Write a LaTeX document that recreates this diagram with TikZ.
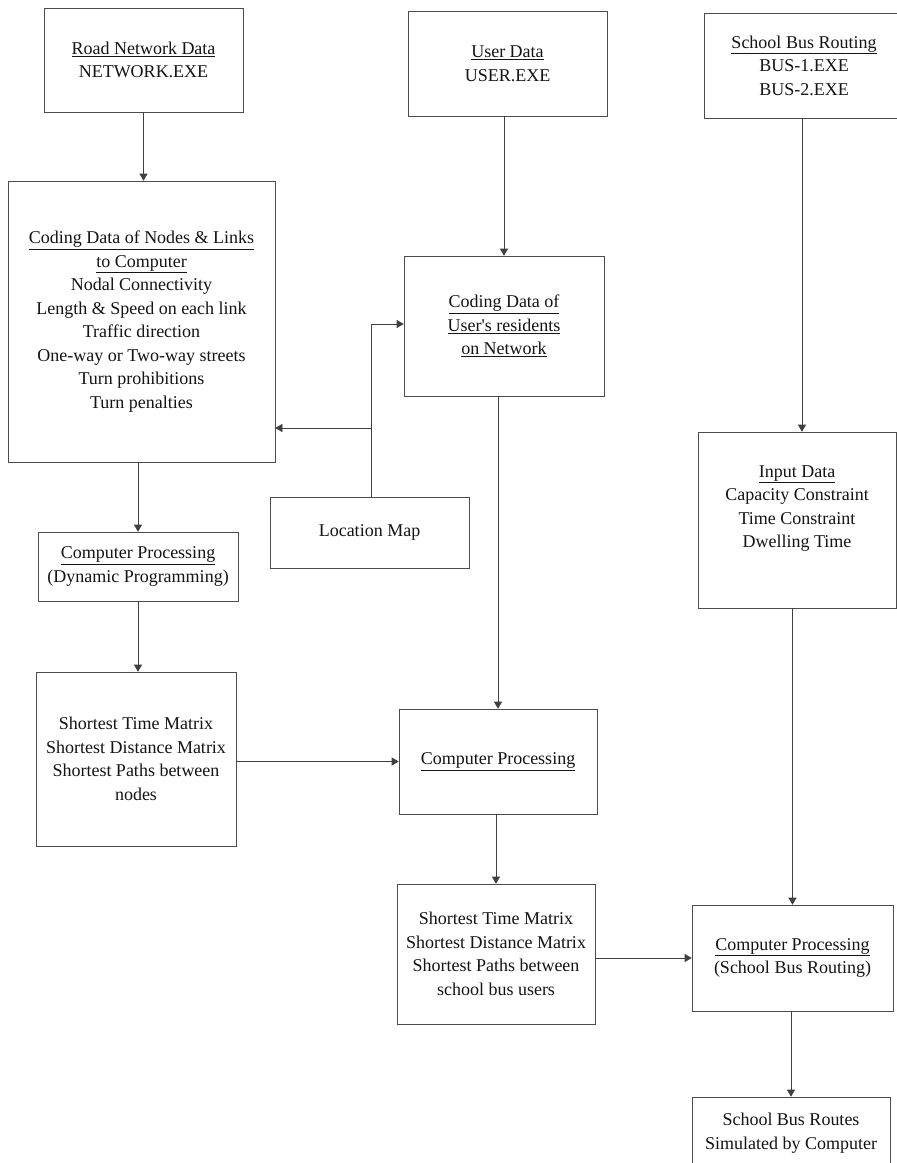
\documentclass[tikz,border=0pt]{standalone}
\usepackage{fontspec}
\setmainfont{Liberation Serif}
\usetikzlibrary{arrows.meta}
\begin{document}
\begin{tikzpicture}[x=1pt,y=-1pt,
  every node/.style={font=\fontsize{18}{23.5}\selectfont, text=black!92},
  box/.style={draw=black!70, line width=0.6pt, rectangle, inner sep=0pt, align=center},
  lbl/.style={inner sep=0pt, align=center},
  arr/.style={draw=black!75, line width=0.6pt, -{Triangle[length=7pt,width=8pt]}}]
\useasboundingbox (0,0) rectangle (897,1163);
\fill[white] (0,0) rectangle (897,1163);
\clip (0,0) rectangle (897,1163);

% left column
\node[box, minimum width=199, minimum height=104] (road) at (143.5,60)
  {\underline{Road Network Data}\\NETWORK.EXE};
\node[box, minimum width=267, minimum height=281] (coding) at (141.5,321.5)
  {\underline{Coding Data of Nodes \& Links}\\\underline{to Computer}\\Nodal Connectivity\\Length \& Speed on each link\\Traffic direction\\One-way or Two-way streets\\Turn prohibitions\\Turn penalties};
\node[box, minimum width=200, minimum height=69] (dp) at (138,566.5)
  {\underline{Computer Processing}\\(Dynamic Programming)};
\node[box, minimum width=200, minimum height=174] (sp1) at (136,759)
  {Shortest Time Matrix\\Shortest Distance Matrix\\Shortest Paths between\\nodes};

% middle column
\node[box, minimum width=199, minimum height=105] (user) at (507.5,63.5)
  {\underline{User Data}\\USER.EXE};
\node[box, minimum width=200, minimum height=140] (ucode) at (504,326)
  {\underline{Coding Data of}\\\underline{User\textquotesingle s residents}\\\underline{on Network}};
\node[box, minimum width=199, minimum height=71] (locmap) at (369.5,532.5)
  {Location Map};
\node[box, minimum width=198, minimum height=105] (cpmid) at (498,761.5)
  {\underline{Computer Processing}};
\node[box, minimum width=198, minimum height=140] (sp2) at (496,954)
  {Shortest Time Matrix\\Shortest Distance Matrix\\Shortest Paths between\\school bus users};

% right column
\node[box, minimum width=200, minimum height=105] (bus) at (804,65.5)
  {\underline{School Bus Routing}\\BUS-1.EXE\\BUS-2.EXE};
\node[box, minimum width=198, minimum height=176] (input) at (797,520) {};
\node[lbl] (inputtxt) at (797,508.5)
  {\underline{Input Data}\\Capacity Constraint\\Time Constraint\\Dwelling Time};
\node[box, minimum width=201, minimum height=106] (cpbus) at (792.5,958)
  {\underline{Computer Processing}\\(School Bus Routing)};
\node[box, minimum width=198, minimum height=110] (final) at (791,1152) {};
\node[lbl] (finaltxt) at (791,1133)
  {School Bus Routes\\Simulated by Computer};

% connectors
\coordinate (busx) at (802,0);
\draw[arr] (road.south) -- (road.south |- coding.north);
\draw[arr] (coding.south -| dp.north) -- (dp.north);
\draw[arr] (dp.south) -- (sp1.north -| dp.south);
\draw[arr] (user.south -| ucode.north) -- (ucode.north);
\draw[arr] (ucode.south -| cpmid.north) -- (cpmid.north);
\draw[arr] (cpmid.south -| sp2.north) -- (sp2.north);
\draw[arr] (bus.south -| busx) -- (input.north -| busx);
\draw[arr] (input.south -| cpbus.north) -- (cpbus.north);
\draw[arr] (cpbus.south -| final.north) -- (final.north);
\draw[arr] (sp1.east |- cpmid.west) -- (cpmid.west);
\draw[arr] (sp2.east |- cpbus.west) -- (cpbus.west);

\coordinate (jlow) at (371,428);
\coordinate (jup) at (371,324);
\draw[draw=black!75, line width=0.6pt] (locmap.north -| jlow) -- (jup);
\draw[arr] (jup) -- (jup -| ucode.west);
\draw[arr] (jlow) -- (jlow -| coding.east);
\end{tikzpicture}
\end{document}
